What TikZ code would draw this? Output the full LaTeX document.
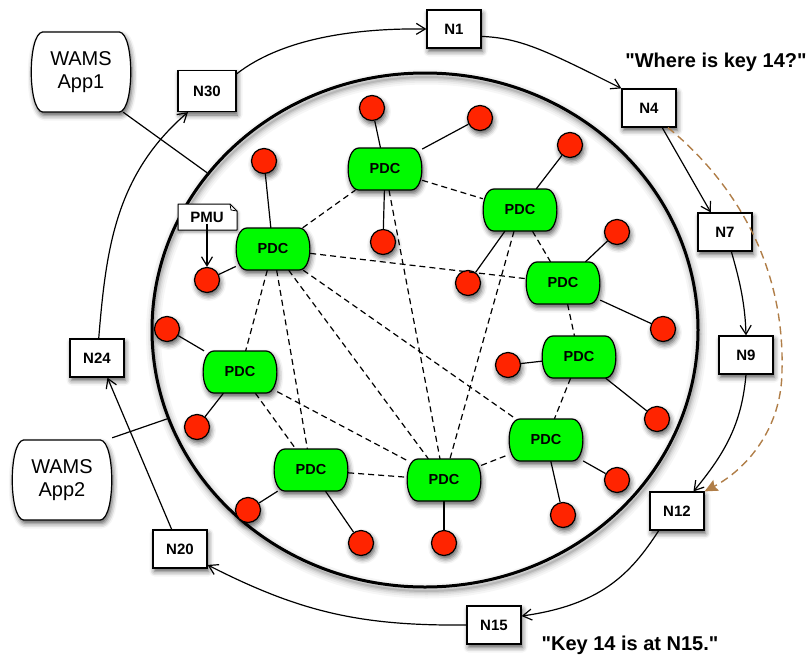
\documentclass[tikz,border=0pt]{standalone}
\usepackage{fontspec}
\setmainfont{Liberation Sans}
\usetikzlibrary{shapes.geometric,arrows.meta,shadows.blur}

\definecolor{pdcgreen}{RGB}{0,250,0}
\definecolor{pmured}{RGB}{255,36,0}
\definecolor{lookup}{RGB}{176,126,72}

\tikzset{
  softshadow/.style={blur shadow={shadow xshift=1.5pt, shadow yshift=-3.5pt,
      shadow blur radius=5pt, shadow opacity=65}},
  ringwall/.style={ellipse, draw, line width=3pt,
      minimum width=546pt, minimum height=514pt, inner sep=0pt},
  ringnode/.style={draw, fill=white, line width=1.2pt, minimum width=54pt,
      minimum height=38pt, inner sep=0pt,
      font=\fontsize{15}{18}\selectfont\bfseries, softshadow},
  outline/.style={draw, line width=1.2pt, softshadow},
  sensor/.style={circle, draw, fill=pmured, minimum size=25pt, inner sep=0pt,
      line width=1.2pt, softshadow},
  notebox/.style={draw, fill=white, line width=1pt, line join=round,
      blur shadow={shadow xshift=1pt, shadow yshift=-2pt,
      shadow blur radius=3pt, shadow opacity=40}},
  quote/.style={font=\fontsize{20}{24}\selectfont\bfseries, inner sep=0pt},
  link/.style={line width=1.2pt},
  peer/.style={line width=1.2pt, dash pattern=on 6pt off 4pt},
  hop/.style={line width=1.2pt, -{Straight Barb[length=9pt,width=11pt]}},
  lookupline/.style={draw=lookup, line width=1.4pt, dash pattern=on 8pt off 5pt,
      -{Stealth[length=13pt,width=12pt,inset=2pt,fill=lookup]}},
  % green concentrator box with rounded ends; its node is <name>-c
  pics/pdcbox/.style={code={
    \draw[outline, fill=pdcgreen]
      (-26,-21) -- (26,-21) .. controls (40.5,-21) and (40.5,21) .. (26,21)
      -- (-26,21) .. controls (-40.5,21) and (-40.5,-21) .. (-26,-21) -- cycle;
    \node[minimum width=74pt, minimum height=42pt, inner sep=0pt,
          font=\fontsize{14.5}{17}\selectfont\bfseries] (-c) {PDC};
  }},
  % application box with rounded ends; its node is <name>-c
  pics/appbox/.style={code={
    \draw[outline, fill=white]
      (-38.5,-40) -- (38.5,-40) .. controls (53.5,-38) and (53.5,38) .. (38.5,40)
      -- (-38.5,40) .. controls (-53.5,38) and (-53.5,-38) .. (-38.5,-40) -- cycle;
    \node[minimum width=100pt, minimum height=80pt, inner sep=0pt, align=center,
          font=\fontsize{20}{23}\selectfont] (-c) {#1};
  }},
}

\begin{document}
\begin{tikzpicture}[x=1pt,y=-1pt]
\useasboundingbox (0,0) rectangle (812,654);

% substation ring with a soft shadow under its stroke
\coordinate (ringc) at (425,330);
\foreach \w/\o in {15/0.035, 11/0.045, 7.5/0.06, 4.5/0.08, 2/0.1}
  \draw[line width=\w pt, opacity=\o]
    ([shift={(1.5,4)}]ringc) ellipse [x radius=273pt, y radius=257pt];
\node[ringwall] (ring) at (ringc) {};

% PMU note with folded corner
\draw[notebox] (178,204) -- (230,204) -- (237,211) -- (237,230) -- (178,230) -- cycle;
\draw[line width=0.8pt] (230,204) -- (231,210) -- (237,211);
\node[inner sep=0pt, font=\fontsize{15}{18}\selectfont\bfseries] (pmu) at (207,217.5) {PMU};

% overlay ring nodes
\node[ringnode] (n1)  at (454,29)  {N1};
\node[ringnode] (n4)  at (649,108) {N4};
\node[ringnode] (n7)  at (725,232) {N7};
\node[ringnode] (n9)  at (746,355) {N9};
\node[ringnode] (n12) at (677,511) {N12};
\node[ringnode] (n15) at (494,625) {N15};
\node[ringnode] (n20) at (180,549) {N20};
\node[ringnode] (n24) at (97,358)  {N24};
\node[ringnode, minimum width=58pt, minimum height=41pt] (n30) at (207,91) {N30};

% applications
\pic (app1) at (81,72)  {appbox={WAMS\\App1}};
\pic (app2) at (62,480) {appbox={WAMS\\App2}};

% phasor data concentrators
\pic (pa) at (273,249) {pdcbox};
\pic (pb) at (385,169) {pdcbox};
\pic (pc) at (520,210) {pdcbox};
\pic (pd) at (563,283) {pdcbox};
\pic (pe) at (579,357) {pdcbox};
\pic (pf) at (546,440) {pdcbox};
\pic (pg) at (444,480) {pdcbox};
\pic (ph) at (311,470) {pdcbox};
\pic (pi) at (240,372) {pdcbox};

% measurement units
\node[sensor] (s1)  at (372,108) {};
\node[sensor] (s2)  at (480,118) {};
\node[sensor] (s3)  at (264,161) {};
\node[sensor] (s4)  at (207,280) {};
\node[sensor] (s5)  at (383,242) {};
\node[sensor] (s6)  at (570,145) {};
\node[sensor] (s7)  at (468,283) {};
\node[sensor] (s8)  at (617,232) {};
\node[sensor] (s9)  at (663,329) {};
\node[sensor] (s10) at (508,365) {};
\node[sensor] (s11) at (657,419) {};
\node[sensor] (s12) at (617,480) {};
\node[sensor] (s13) at (563,515) {};
\node[sensor] (s14) at (444,543) {};
\node[sensor] (s15) at (361,543) {};
\node[sensor] (s16) at (248,510) {};
\node[sensor] (s17) at (167,329) {};
\node[sensor] (s18) at (197,427) {};

% sensor attachments
\draw[link] (s1) -- (pb-c);  \draw[link] (s2) -- (pb-c);  \draw[link] (s5) -- (pb-c);
\draw[link] (s3) -- (pa-c);  \draw[link] (s4) -- (pa-c);
\draw[link] (s6) -- (pc-c);  \draw[link] (s7) -- (pc-c);
\draw[link] (s8) -- (pd-c);  \draw[link] (s9) -- (pd-c);
\draw[link] (s10) -- (pe-c); \draw[link] (s11) -- (pe-c);
\draw[link] (s12) -- (pf-c); \draw[link] (s13) -- (pf-c);
\draw[link] (s14) -- (pg-c);
\draw[link] (s15) -- (ph-c); \draw[link] (s16) -- (ph-c);
\draw[link] (s17) -- (pi-c); \draw[link] (s18) -- (pi-c);

% PDC mesh
\draw[peer] (pa-c) -- (pb-c);
\draw[peer] (pb-c) -- (pc-c);
\draw[peer] (pa-c) -- (pd-c);
\draw[peer] (pb-c) -- (pg-c);
\draw[peer] (pc-c) -- (pd-c);
\draw[peer] (pc-c) -- (pg-c);
\draw[peer] (pd-c) -- (pe-c);
\draw[peer] (pe-c) -- (pf-c);
\draw[peer] (pa-c) -- (pi-c);
\draw[peer] (pa-c) -- (ph-c);
\draw[peer] (pa-c) -- (pg-c);
\draw[peer] (pa-c) -- (pf-c);
\draw[peer] (pi-c) -- (ph-c);
\draw[peer] (pi-c) -- (pg-c);
\draw[peer] (ph-c) -- (pg-c);
\draw[peer] (pg-c) -- (pf-c);

% PMU feed and application taps
\draw[hop] (pmu.south) ++(0,1) -- (s4);
\draw[link] ([xshift=-8pt]app1-c.south east) -- (ring);
\draw[link] ([yshift=2pt]app2-c.north east) -- (ring);

% overlay successor links
\draw[hop] (n30.30) .. controls (280,40) and (350,28) .. (n1.west);
\draw[hop] (n1.-15) .. controls (520,38) and (545,50) .. (n4.north west);
\draw[hop] (n4.-56) -- (n7.126);
\draw[hop] (n7.-72) .. controls (738,275) and (745,300) .. (n9.north);
\draw[hop] (n9.south) .. controls (742,420) and (728,450) .. (n12.50);
\draw[hop] (n12.-133) .. controls (630,575) and (600,605) .. (n15.18);
\draw[hop] (n15.west) .. controls (360,626) and (300,612) .. (n20.-30);
\draw[hop] (n20.113) -- (n24.-62);
\draw[hop] (n24.85) .. controls (106,250) and (115,175) .. (n30.-132);

% lookup shortcut
\draw[lookupline] (n4.-46) .. controls (720,170) and (785,250) .. (782,370)
                  .. controls (782,430) and (745,470) .. (n12.north east);

% query and answer
\node[quote] (ask) at (716,62) {\textquotedbl Where is key 14?\textquotedbl};
\node[quote] (answer) at (630,645) {\textquotedbl Key 14 is at N15.\textquotedbl};
\end{tikzpicture}
\end{document}
